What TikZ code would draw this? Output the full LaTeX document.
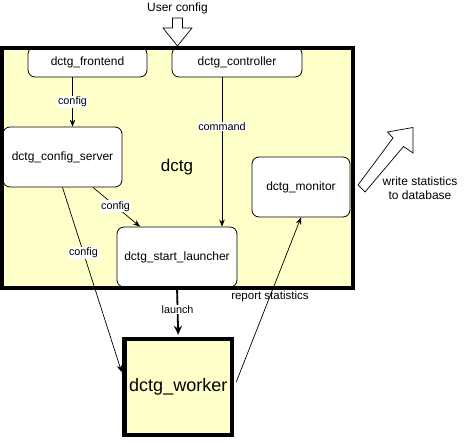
\documentclass[tikz,border=0pt]{standalone}
\usepackage{fontspec}
\setmainfont{Liberation Sans}
\usetikzlibrary{arrows.meta,calc}
\definecolor{boxyellow}{RGB}{255,255,202}
\begin{document}
\begin{tikzpicture}[x=1pt,y=-1pt,
  comp/.style={draw=black,line width=0.8pt,fill=white,rounded corners=7pt,
    font=\fontsize{12}{14}\selectfont,inner sep=0pt},
  lbl/.style={fill=white,inner sep=0.8pt,font=\fontsize{10.8}{12}\selectfont},
  plainlbl/.style={inner sep=0pt,font=\fontsize{11.5}{13}\selectfont},
  flow/.style={line width=0.7pt,-{Stealth[length=7pt,width=5.5pt]}},
  heavyflow/.style={line width=1.8pt,-{Stealth[length=9pt,width=8pt]}},
  bigarrow/.style={draw=black,line width=0.7pt,fill=white,line join=miter},
  thickframe/.style={line width=4pt}]
\useasboundingbox (0,0) rectangle (473,443);

% container
\node[fill=boxyellow,minimum width=350.5pt,minimum height=240.5pt,inner sep=0pt] (dctgbox) at (177.25,168) {};
\node[font=\fontsize{17}{20}\selectfont] (dctglbl) at (177,167) {dctg};

% components
\node[comp,minimum width=119pt,minimum height=30pt] (fe) at (87.5,62) {dctg\_frontend};
\node[comp,minimum width=130pt,minimum height=30pt] (ctl) at (237,62) {dctg\_controller};
\node[comp,minimum width=119pt,minimum height=60pt] (cs) at (62.5,157) {dctg\_config\_server};
\node[comp,minimum width=120pt,minimum height=60pt] (sl) at (177,257) {dctg\_start\_launcher};
\node[comp,minimum width=98pt,minimum height=60pt] (mon) at (301,187) {dctg\_monitor};

% frame border on top
\draw[thickframe] (dctgbox.north west) rectangle (dctgbox.south east);

% worker
\node[draw=black,line width=4.5pt,fill=boxyellow,minimum width=107.5pt,minimum height=96pt,inner sep=0pt,
  font=\fontsize{18}{21}\selectfont] (wk) at (178.25,387) {dctg\_worker};

% connectors
\draw[flow] ([xshift=-15pt]fe.south) -- node[lbl]{config} ([xshift=10pt]cs.north);
\draw[flow] ([xshift=-15pt]ctl.south) -- node[lbl,pos=0.33]{command} ([xshift=45pt]sl.north);
\draw[flow] ([xshift=30.5pt]cs.south) -- node[lbl,pos=0.48]{config} ([xshift=-37pt]sl.north);
\draw[flow,shorten >=2pt] (cs.south) -- node[lbl,pos=0.35]{config} ([yshift=13pt]wk.west);
\draw[heavyflow,shorten >=2pt] (sl.south) -- node[lbl,pos=0.45]{launch} (wk.north);
\draw[flow] ([yshift=5pt,xshift=2pt]wk.east) -- node[plainlbl,pos=0.52]{report statistics} (mon.south);

% user config input
\node[font=\fontsize{12}{14}\selectfont] (uc) at (177.5,8) {User config};
\draw[bigarrow] (172.5,18) -- (182.5,18) -- (182.5,28) -- (192,28) -- (177.5,46) -- (163,28) -- (172.5,28) -- cycle;

% output to database
\draw[bigarrow] (358,185) -- (393,138) -- (387.5,132) -- (413,127.5) -- (413,153) -- (403.5,146.5) -- (365,192) -- cycle;
\node[font=\fontsize{12}{14}\selectfont,align=center] (db) at (420,188.5) {write statistics\\to database};
\end{tikzpicture}
\end{document}
